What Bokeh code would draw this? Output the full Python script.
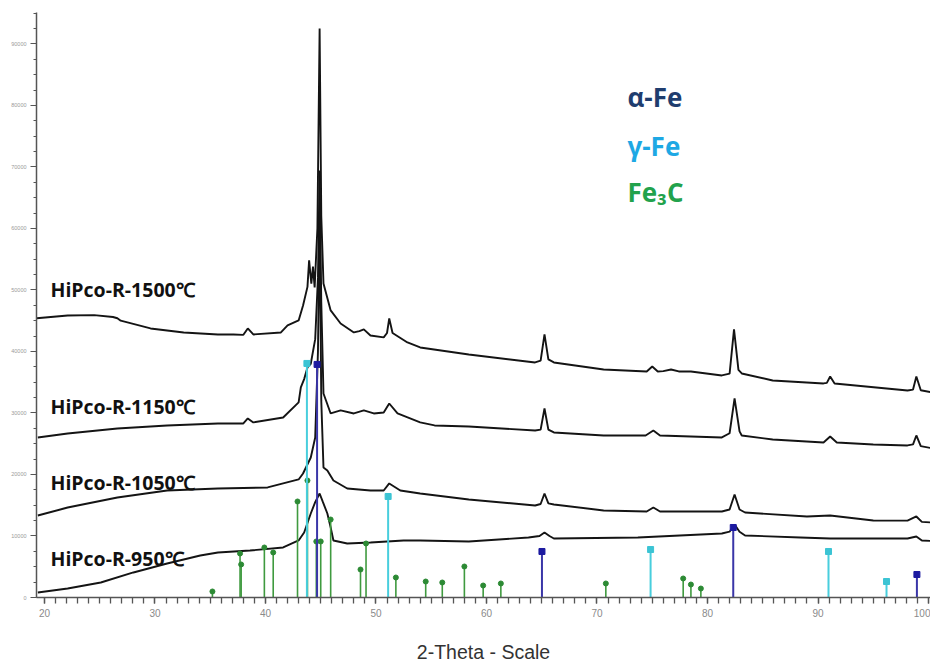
from bokeh.plotting import figure
from bokeh.models import Range1d, Label, SingleIntervalTicker, BasicTickFormatter, ColumnDataSource
from bokeh.embed import file_html
from bokeh.resources import INLINE

# ---------------- data ----------------
tt_1500 = [19.3, 22.1, 24.5, 26.2, 26.6, 26.9, 29.6, 32.6, 35.7, 37.1, 38.0, 38.4, 38.9, 41.4, 42.0,
           43.0, 43.4, 43.8, 43.95, 44.15, 44.3, 44.45, 44.7, 44.9, 45.05, 45.25, 45.9, 46.8, 48.0,
           48.5, 48.9, 49.5, 50.7, 51.0, 51.2, 51.5, 52.85, 54.0, 58.4, 64.4, 64.9, 65.25, 65.6, 66.1,
           70.6, 74.5, 75.0, 75.5, 76.0, 76.7, 77.4, 78.5, 81.3, 82.0, 82.4, 82.8, 83.1, 85.9, 90.5,
           90.8, 91.1, 91.5, 98.1, 98.6, 98.9, 99.3, 100.2]
int_1500 = [45400, 45850, 45900, 45600, 45400, 45000, 43740, 43090, 42760, 42760, 42700, 43740, 42760,
            43090, 44230, 45040, 47480, 50500, 54800, 51000, 53800, 50400, 60000, 92500, 62000, 51060,
            46670, 44550, 43090, 43300, 43580, 42600, 42280, 43000, 45360, 43000, 41460, 40650, 39510,
            38210, 38500, 42760, 38700, 38210, 37070, 36750, 37560, 36750, 36800, 37070, 36750, 36750,
            36100, 36400, 43580, 37000, 36420, 35280, 34800, 34900, 35930, 34800, 33660, 33800, 35930,
            33700, 33400]

tt_1150 = [19.4, 22.1, 26.6, 31.1, 35.7, 38.0, 38.4, 38.9, 41.6, 43.0, 43.2, 43.5, 43.8, 44.1, 44.5,
           44.75, 44.9, 45.05, 45.25, 45.9, 46.8, 48.0, 48.9, 49.8, 50.7, 51.2, 51.95, 54.0, 55.3, 58.4,
           64.4, 64.9, 65.25, 65.6, 66.1, 70.6, 74.4, 75.1, 75.7, 81.3, 82.0, 82.45, 82.9, 83.1, 85.9,
           90.5, 91.1, 91.7, 95.0, 98.1, 98.6, 98.9, 99.3, 100.2]
int_1150 = [26020, 26670, 27480, 27970, 28290, 28290, 29110, 28460, 29270, 31710, 34150, 35500, 37400,
            38000, 42000, 52000, 69430, 48000, 33170, 29920, 30410, 29920, 30410, 29920, 30080, 31540,
            29920, 28460, 27970, 27800, 27150, 27300, 30730, 27300, 26830, 26340, 26340, 27150, 26340,
            26020, 26700, 32360, 27000, 26340, 25690, 25200, 26180, 25200, 24880, 24720, 24900, 26340,
            24600, 24300]

tt_1050 = [19.4, 22.1, 26.6, 31.1, 35.7, 40.2, 43.0, 43.4, 44.1, 44.5, 44.75, 44.9, 45.05, 45.25, 45.6,
           46.15, 47.4, 49.5, 50.7, 51.2, 52.2, 54.0, 58.4, 64.4, 64.9, 65.25, 65.6, 66.1, 70.6, 74.5,
           75.1, 75.7, 81.3, 82.0, 82.45, 82.9, 83.4, 89.0, 91.1, 95.0, 98.1, 98.9, 99.4, 100.2]
int_1050 = [13330, 14630, 16260, 17400, 17720, 17890, 19190, 20160, 22760, 26000, 40000, 62110, 32000,
            21140, 20650, 19020, 17720, 17400, 17400, 18540, 17400, 16910, 15930, 14960, 15200, 16910,
            15300, 15120, 14150, 13980, 14630, 13980, 13980, 14300, 16750, 14300, 13820, 13170, 13330,
            12520, 12500, 13170, 12300, 12200]

tt_950 = [19.4, 22.1, 25.1, 28.05, 31.1, 34.1, 35.7, 38.6, 41.6, 43.0, 43.5, 44.1, 44.5, 44.9, 45.2,
          45.6, 45.9, 46.15, 47.4, 49.5, 52.5, 54.0, 58.4, 63.8, 64.8, 65.25, 65.7, 66.1, 73.7, 81.3,
          82.0, 82.45, 82.9, 83.4, 88.4, 91.1, 98.1, 98.9, 99.4, 100.2]
int_950 = [810, 1460, 2440, 4070, 5530, 6830, 7320, 7640, 8130, 9270, 10570, 13660, 15500, 16910, 15500,
           13660, 11380, 9270, 8780, 8940, 9270, 9270, 9110, 9760, 10000, 10570, 10000, 9590, 9760, 10410,
           10700, 11870, 10700, 10080, 9760, 9590, 9590, 9920, 9270, 9200]

# reference sticks
alpha_pos = [44.67, 65.02, 82.33, 98.95]
alpha_int = [37890, 7480, 11380, 3740]
gamma_pos = [43.75, 51.1, 74.85, 90.95, 96.2]
gamma_int = [38050, 16420, 7800, 7480, 2600]
fe3c_pos = [35.2, 37.7, 37.8, 39.9, 40.7, 42.9, 43.8, 44.6, 45.0, 45.9, 48.6, 49.1, 51.8, 54.5,
            56.0, 58.0, 59.7, 61.3, 70.8, 77.8, 78.5, 79.4]
fe3c_int = [980, 7150, 5370, 8130, 7320, 15610, 19020, 9110, 9110, 12680, 4550, 8780, 3250, 2600,
            2440, 5040, 1950, 2280, 2280, 3090, 2110, 1460]

sample_names = ["HiPco-R-1500\u2103", "HiPco-R-1150\u2103", "HiPco-R-1050\u2103", "HiPco-R-950\u2103"]
phase_names = ["\u03b1-Fe", "\u03b3-Fe", "Fe\u2083C"]
x_tick_step = 10
y_tick_step = 10000

# ---------------- figure ----------------
p = figure(width=930, height=669, output_backend="svg", toolbar_location=None,
           x_range=Range1d(19.28, 100.18), y_range=Range1d(0, 95100),
           min_border_left=36, min_border_right=0, min_border_top=12, min_border_bottom=72)
p.outline_line_color = None
p.grid.visible = False
p.background_fill_color = "white"
p.border_fill_color = "white"

xa = p.xaxis[0]
xa.ticker = SingleIntervalTicker(interval=x_tick_step, num_minor_ticks=10)
xa.axis_line_color = "#555555"
xa.axis_line_width = 1.5
xa.major_tick_line_color = "#555555"
xa.minor_tick_line_color = "#555555"
xa.major_tick_in = 0
xa.major_tick_out = 6
xa.minor_tick_in = 0
xa.minor_tick_out = 6
xa.major_tick_line_width = 1.3
xa.minor_tick_line_width = 1.3
xa.major_label_text_font = "Liberation Sans"
xa.major_label_text_font_size = "10px"
xa.major_label_text_color = "#8a8a8a"
xa.major_label_standoff = 5
xa.axis_label = "2-Theta - Scale"
xa.axis_label_text_font = "Liberation Sans"
xa.axis_label_text_font_style = "normal"
xa.axis_label_text_font_size = "19.5px"
xa.axis_label_text_color = "#333333"
xa.axis_label_standoff = 21

ya = p.yaxis[0]
ya.ticker = SingleIntervalTicker(interval=y_tick_step, num_minor_ticks=4)
ya.formatter = BasicTickFormatter(use_scientific=False)
ya.axis_line_color = "#555555"
ya.axis_line_width = 1.5
ya.major_tick_line_color = "#555555"
ya.minor_tick_line_color = "#555555"
ya.major_tick_in = 0
ya.major_tick_out = 6
ya.minor_tick_in = 0
ya.minor_tick_out = 3
ya.major_label_text_font = "Liberation Sans"
ya.major_label_text_font_size = "5.5px"
ya.major_label_text_color = "#9a9a9a"
ya.major_label_standoff = 4
ya.major_label_orientation = "horizontal"

# traces
for tt, it in [(tt_1500, int_1500), (tt_1150, int_1150), (tt_1050, int_1050), (tt_950, int_950)]:
    p.line(tt, it, line_color="#141414", line_width=1.9)

# sticks
def sticks(pos, ints, line_col, mk_col, marker, size, lw):
    src = ColumnDataSource(dict(x=pos, y=ints, y0=[0] * len(pos)))
    p.segment(x0="x", y0="y0", x1="x", y1="y", source=src, line_color=line_col, line_width=lw)
    p.scatter(x="x", y="y", source=src, marker=marker, size=size, fill_color=mk_col,
              line_color=mk_col)

sticks(fe3c_pos, fe3c_int, "#3f9a3f", "#2c8a34", "circle", 5, 1.6)
sticks(gamma_pos, gamma_int, "#48cedd", "#3cc4d4", "square", 6, 2)
sticks(alpha_pos, alpha_int, "#3a36a8", "#1c1aa0", "square", 6, 2)

# annotation positions (page pixels -> data units)
def px2x(px):
    return 20 + (px - 44) / 11.05

def py2y(py):
    return (597 - py) * 162.6

for name, py in zip(sample_names, [289, 406, 482, 558]):
    p.add_layout(Label(x=px2x(50), y=py2y(py), text=name, text_font="Open Sans",
                       text_font_style="bold", text_font_size="19.5px", text_color="#111111",
                       text_baseline="middle", text_align="left"))

for name, py, col in zip(phase_names, [97, 146, 192], ["#1f3d6e", "#1ea8e4", "#22a24c"]):
    p.add_layout(Label(x=px2x(627), y=py2y(py), text=name, text_font="Open Sans",
                       text_font_style="bold", text_font_size="26px", text_color=col,
                       text_baseline="middle", text_align="left"))

open("out.html", "w").write(file_html(p, INLINE))
